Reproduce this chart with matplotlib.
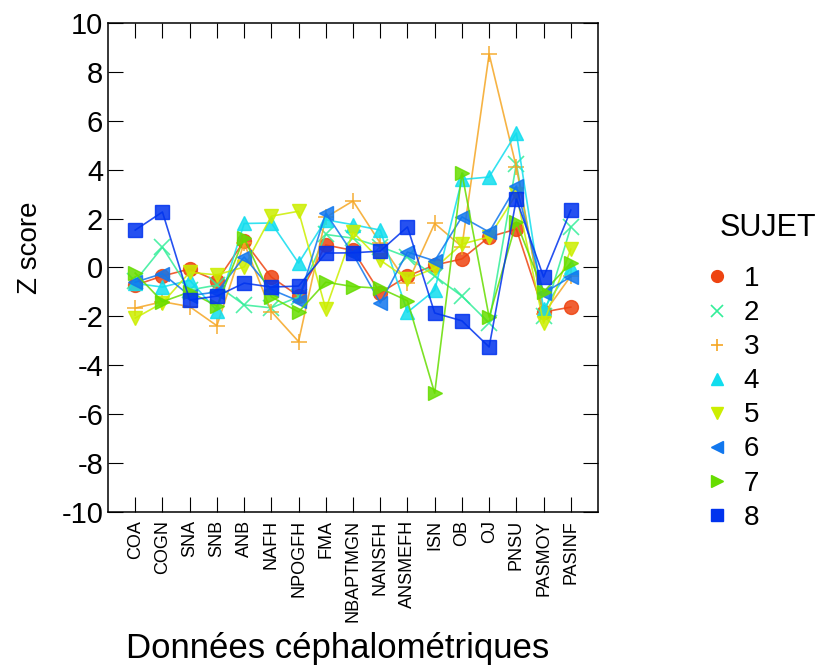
import matplotlib; matplotlib.use("Agg")
import matplotlib.pyplot as plt
import numpy as np

plt.rcParams["font.family"] = ["Liberation Sans", "DejaVu Sans"]
plt.rcParams["axes.unicode_minus"] = False

VARS = ["COA", "COGN", "SNA", "SNB", "ANB", "NAFH", "NPOGFH", "FMA", "NBAPTMGN",
        "NANSFH", "ANSMEFH", "ISN", "OB", "OJ", "PNSU", "PASMOY", "PASINF"]

# z scores per subject, one value per cephalometric variable
s1 = [-0.72, -0.35, -0.06, -0.55, 1.08, -0.39, -1.17, 0.92, 0.70, -1.04, -0.35, 0.10, 0.35, 1.25, 1.57, -1.82, -1.62]
s2 = [-0.55, 0.83, -0.92, -0.72, -1.53, -1.65, -1.20, 1.35, 1.20, 0.85, 0.43, -0.35, -1.17, -2.27, 4.25, -2.00, 1.65]
s3 = [-1.66, -1.40, -1.60, -2.38, 1.00, -1.80, -3.03, 2.05, 2.72, 1.00, -0.65, 1.80, 0.85, 8.73, 4.10, -1.90, -0.35]
s4 = [-0.65, -0.80, -0.52, -1.76, 1.80, 1.82, 0.18, 1.95, 1.75, 1.53, -1.83, -0.93, 3.60, 3.70, 5.50, -1.70, 0.00]
s5 = [-2.07, -1.45, -0.20, -0.30, 0.02, 2.10, 2.30, -1.70, 1.45, 0.30, -0.47, -0.03, 0.96, 1.25, 3.00, -2.28, 0.75]
s6 = [-0.60, -0.25, -1.15, -1.00, 0.43, -0.90, -1.37, 2.23, 0.55, -1.45, 0.63, 0.27, 2.07, 1.45, 3.33, -1.05, -0.38]
s7 = [-0.23, -1.40, -1.00, -1.58, 1.20, -1.20, -1.82, -0.60, -0.78, -0.85, -1.36, -5.14, 3.86, -2.03, 1.86, -1.00, 0.18]
s8 = [1.53, 2.27, -1.33, -1.17, -0.64, -0.80, -0.76, 0.59, 0.60, 0.67, 1.66, -1.86, -2.18, -3.25, 2.80, -0.39, 2.35]

SUBJECTS = ["1", "2", "3", "4", "5", "6", "7", "8"]
SERIES = [s1, s2, s3, s4, s5, s6, s7, s8]
COLORS = ["#EE4411", "#33EE99", "#F5A623", "#11DDEE", "#CCEE00", "#1177EE", "#66DD00", "#0033EE"]
MARKERS = ["o", "x", "+", "^", "v", "<", ">", "s"]

fig = plt.figure(figsize=(8.2, 6.66), dpi=100)
ax = fig.add_axes([0.1317, 0.2312, 0.5976, 0.7343])

x = np.arange(1, len(VARS) + 1)
for lab, ys, c, m in zip(SUBJECTS, SERIES, COLORS, MARKERS):
    filled = m not in ("x", "+")
    ax.plot(x, ys, color=c, lw=1.2, alpha=0.85, marker=m,
            markersize=10 if filled else 11, markeredgewidth=1.0 if filled else 1.2,
            markeredgecolor=c, markerfacecolor=c, label=lab)

ax.set_xlim(0, len(VARS) + 1)
ax.set_ylim(-10, 10)
ax.set_yticks(np.arange(-10, 11, 2))
ax.set_xticks(x)
ax.set_xticklabels(VARS, rotation=90, fontsize=13)
ax.tick_params(axis="y", labelsize=21, direction="in", length=11, right=True)
ax.tick_params(axis="x", direction="in", length=11, top=True, pad=6)
for sp in ax.spines.values():
    sp.set_linewidth(1.1)

# axis titles placed in figure coordinates
fig.text(0.037, 0.628, "Z score", fontsize=20, rotation=90, ha="center", va="center")
fig.text(0.412, 0.027, "Données céphalométriques", fontsize=25, ha="center", va="center")

fig.text(0.878, 0.658, "SUJET", fontsize=22, ha="left", va="center")
leg = fig.legend(loc="upper left", bbox_to_anchor=(0.856, 0.617), frameon=False,
                 fontsize=20, handlelength=0.3, handletextpad=0.8, labelspacing=0.29,
                 markerscale=0.85, borderaxespad=0)
for h in leg.legend_handles:
    h.set_linestyle("")
    h.set_alpha(1)

fig.savefig("out.png", dpi=100)
